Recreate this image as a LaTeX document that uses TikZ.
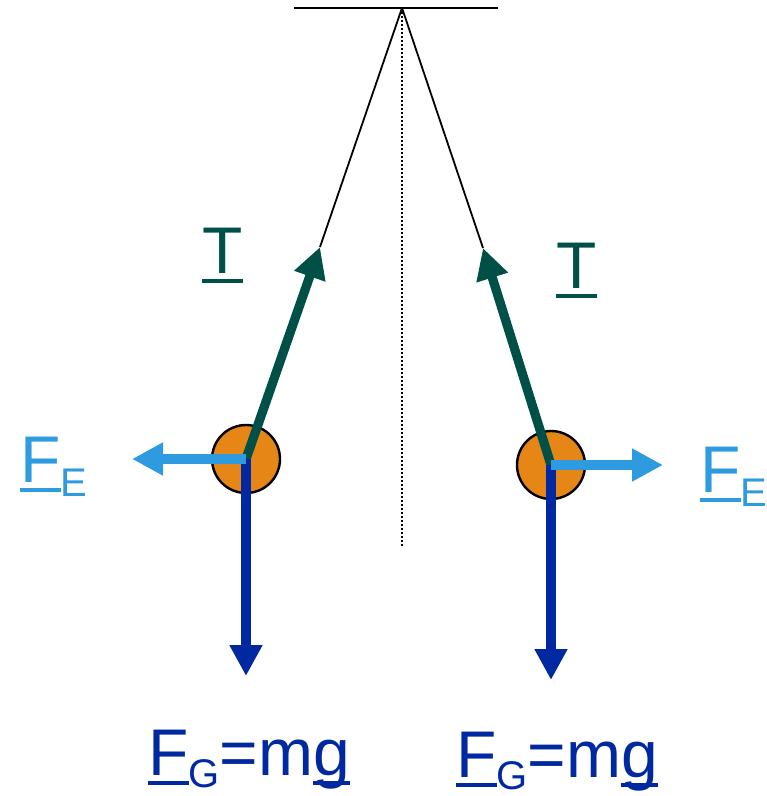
\documentclass[tikz,border=0pt]{standalone}
\usepackage{fontspec}
\setmainfont{Liberation Sans}
\usetikzlibrary{arrows.meta}

\definecolor{tgreen}{RGB}{0,80,72}
\definecolor{feblue}{RGB}{46,154,224}
\definecolor{fgblue}{RGB}{0,40,160}
\definecolor{ballorange}{RGB}{230,134,22}

% underlined letter for a vector
\newcommand{\vecu}[1]{\setbox0\hbox{#1}\rlap{\rule[-0.15em]{\wd0}{0.065em}}\box0}
\newcommand{\bigtxt}{\fontsize{33}{36}\selectfont}
\newcommand{\subtxt}[2][7pt]{\raisebox{-#1}{\fontsize{20}{22}\selectfont #2}}

\tikzset{
  ball/.style={circle,draw=black,line width=1.2pt,fill=ballorange,minimum size=34pt,inner sep=0pt},
  force/.style={->,line width=4.6pt},
  lbl/.style={font=\bigtxt,anchor=base west,inner sep=0pt}
}

\begin{document}
\begin{tikzpicture}[x=0.5pt,y=-0.5pt,>={Triangle[length=15.5pt,width=15.5pt]}]
\useasboundingbox (0,0) rectangle (766,796);

\coordinate (ceilL) at (294,8);
\coordinate (ceilR) at (498,8);
\coordinate (pivot) at (402,8);
\coordinate (plumb) at (402,548);
\coordinate (tipTL) at (320,247);
\coordinate (tipTR) at (483,248);
\coordinate (tipEL) at (132,459);
\coordinate (tipER) at (663,465);
\coordinate (tipGL) at (246,676);
\coordinate (tipGR) at (551,680);

\draw[line width=1pt] (ceilL) -- (ceilR);
\draw[line width=0.9pt,dash pattern=on 1pt off 1pt] (pivot) -- (plumb);
\draw[line width=0.9pt] (pivot) -- (tipTL);
\draw[line width=0.9pt] (pivot) -- (tipTR);

\node[ball] (ballL) at (246,459) {};
\node[ball] (ballR) at (551,465) {};

\draw[force,tgreen] (ballL.center) -- (tipTL);
\draw[force,tgreen] (ballR.center) -- (tipTR);
\draw[force,fgblue] (ballL.center) -- (tipGL);
\draw[force,fgblue] (ballR.center) -- (tipGR);
\draw[force,feblue] (ballL.center) -- (tipEL);
\draw[force,feblue] (ballR.center) -- (tipER);

\node[lbl,text=tgreen] (labTL) at (202,273) {\vecu{T}};
\node[lbl,text=tgreen] (labTR) at (556,288) {\vecu{T}};
\node[lbl,text=feblue] (labEL) at (20,482) {\vecu{F}\subtxt{E}};
\node[lbl,text=feblue] (labER) at (700,492) {\vecu{F}\subtxt{E}};
\node[lbl,text=fgblue] (labGL) at (148,775) {\vecu{F}\subtxt[6pt]{G}=m\vecu{g}};
\node[lbl,text=fgblue] (labGR) at (456,777) {\vecu{F}\subtxt[6pt]{G}=m\vecu{g}};
\end{tikzpicture}
\end{document}
